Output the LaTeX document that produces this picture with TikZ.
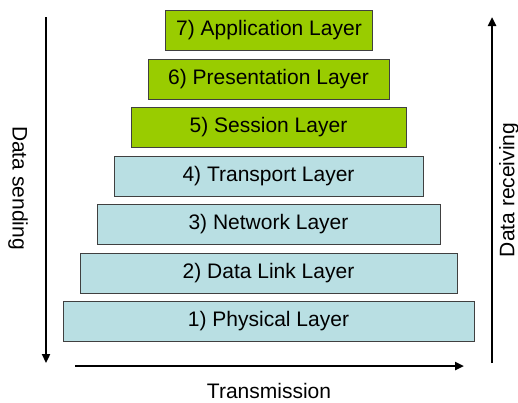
\documentclass[tikz,border=0pt]{standalone}
\usepackage{fontspec}
\setmainfont{Liberation Sans}
\usetikzlibrary{arrows.meta}
\definecolor{layergreen}{HTML}{99CC00}
\definecolor{layerblue}{HTML}{B9DFE3}
\begin{document}
\begin{tikzpicture}[x=1pt,y=-1pt,
  layerbox/.style={draw=black!75, line width=0.8pt, minimum height=40pt, inner sep=0pt, font=\fontsize{21}{24}\selectfont},
  upper/.style={layerbox, fill=layergreen},
  lower/.style={layerbox, fill=layerblue},
  bigarrow/.style={line width=2.8pt, -{Triangle[length=9pt,width=8pt]}},
  lbl/.style={font=\fontsize{21}{24}\selectfont, inner sep=0pt}]
\useasboundingbox (0,0) rectangle (518,402);
\node[upper, minimum width=207pt] (l7) at (269,30.5) {7) Application Layer};
\node[upper, minimum width=241pt] (l6) at (268.5,79) {6) Presentation Layer};
\node[upper, minimum width=275pt] (l5) at (268.5,127.5) {5) Session Layer};
\node[lower, minimum width=309pt] (l4) at (268.5,176) {4) Transport Layer};
\node[lower, minimum width=343pt] (l3) at (268.5,224.5) {3) Network Layer};
\node[lower, minimum width=377pt] (l2) at (268.5,273) {2) Data Link Layer};
\node[lower, minimum width=411pt] (l1) at (268.5,321.5) {1) Physical Layer};
\coordinate (sTop) at (46,17);
\coordinate (sBot) at (46,363);
\coordinate (rBot) at (492,363);
\coordinate (rTop) at (492,17);
\coordinate (tL) at (75,366);
\coordinate (tR) at (464,366);
\draw[bigarrow] (sTop) -- (sBot);
\draw[bigarrow] (rBot) -- (rTop);
\draw[bigarrow] (tL) -- (tR);
\node[lbl, rotate=-90] (send) at (18,188) {Data sending};
\node[lbl, rotate=90] (recv) at (509,190) {Data receiving};
\node[lbl] (trans) at (269,391) {Transmission};
\end{tikzpicture}
\end{document}
